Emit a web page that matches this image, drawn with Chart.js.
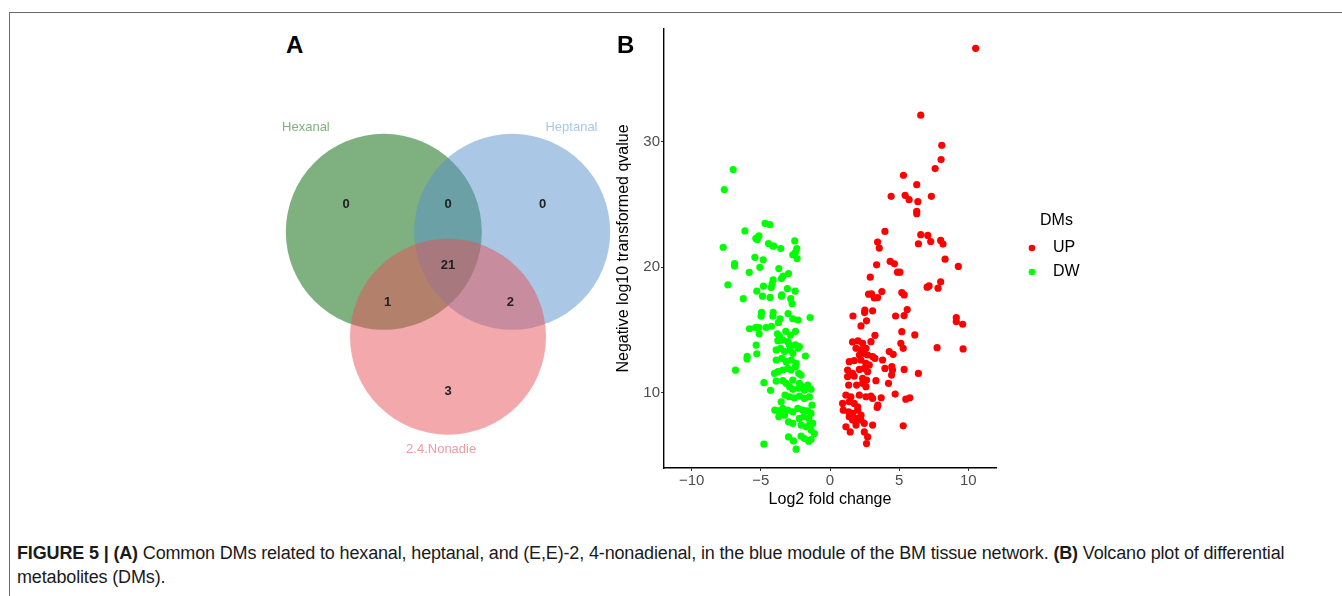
<!DOCTYPE html>
<html lang="en">
<head>
<meta charset="UTF-8">
<title>Figure 5</title>
<style type="text/css">
  body { margin: 0; background: #fff; font-family: 'Liberation Sans', Arial, Helvetica, sans-serif; }
  .page { position: relative; width: 1342px; height: 596px; overflow: hidden; }
  .frame { position: absolute; left: 9px; top: 12px; right: -5px; bottom: -5px; border-top: 1.5px solid #6b6b6b; border-left: 1.5px solid #6b6b6b; }
  .panel { position: absolute; font-weight: bold; font-size: 24px; color: #000; }
  #venn { position: absolute; left: 252px; top: 76px; }
  #volcano { position: absolute; left: 600px; top: 0px; }
  .caption { position: absolute; left: 17px; top: 541px; font-size: 18px; letter-spacing: -0.15px; line-height: 24px; color: #1a1a1a; white-space: nowrap; }
</style>
</head>
<body>
<div class="page">
  <div class="frame"></div>
  <canvas id="venn" width="392" height="392"></canvas>
  <canvas id="volcano" width="500" height="530"></canvas>
  <div class="panel" style="left:286px; top:31px;">A</div>
  <div class="panel" style="left:617px; top:31px;">B</div>
  <div class="caption"><b>FIGURE 5 | (A)</b> Common DMs related to hexanal, heptanal, and (E,E)-2, 4-nonadienal, in the blue module of the BM tissue network. <b>(B)</b> Volcano plot of differential<br>metabolites (DMs).</div>
</div>

<script src="https://cdn.jsdelivr.net/npm/chart.js"></script>
<script>
Chart.defaults.font.family = "'Liberation Sans', Arial, Helvetica, sans-serif";

// ---- panel A: venn ----
const vennSets = ['Hexanal', 'Heptanal', '2.4.Nonadie'];
const vennCX = [-0.655, 0.655, 0];
const vennCY = [0.41, 0.41, -0.66];
const vennR = [98, 98, 98];
const vennFill = ['rgba(0,97,0,0.5)', 'rgba(85,145,205,0.5)', 'rgba(231,81,89,0.5)'];
const vennLabelColor = ['#7db47c', '#a6c9ea', '#f09aa3'];
const setLabelX = [-1.45, 1.26, -0.07];
const setLabelY = [1.48, 1.48, -1.81];

const counts = ['0', '0', '0', '21', '1', '2', '3'];
const countX = [-1.04, 0, 0.965, 0, -0.615, 0.636, 0];
const countY = [0.69, 0.69, 0.69, 0.064, -0.313, -0.313, -1.22];

// ---- panel B: volcano ----
const xTicks = [-10, -5, 0, 5, 10];
const yTicks = [10, 20, 30];

const upPts = [
  [10.53,37.46],[6.56,32.13],[8.08,29.73],[8.03,28.59],[7.60,27.87],[5.31,27.34],[6.27,26.59],[4.42,25.66],
  [5.43,25.74],[5.72,25.39],[6.35,25.23],[6.27,24.46],[6.27,24.27],[7.33,25.66],[3.97,22.86],[3.44,22.01],
  [3.56,21.53],[6.56,22.60],[7.07,22.54],[6.39,21.88],[7.28,22.06],[8.0,22.14],[8.17,21.85],[8.32,20.65],
  [9.28,20.07],[3.37,20.2],[4.35,20.47],[4.66,20.28],[4.88,19.61],[5.05,19.61],[2.91,19.21],[7.02,18.42],
  [7.16,18.52],[7.81,18.34],[8.0,18.84],[2.79,17.86],[3.0,17.88],[3.75,18.07],[3.2,17.56],[3.44,17.59],
  [5.19,17.99],[5.36,17.80],[1.66,16.12],[2.52,16.58],[2.5,16.39],[3.08,16.53],[2.64,15.73],[2.24,15.33],
  [4.74,16.12],[5.58,16.63],[5.36,16.15],[9.13,16.0],[9.13,15.67],[9.59,15.46],[6.13,14.61],[5.19,14.87],
  [3.25,14.58],[7.74,13.59],[9.62,13.49],[5.12,13.94],[5.29,13.54],[4.28,13.28],[4.57,13.06],[5.36,11.86],
  [6.39,11.54],[4.71,9.89],[5.48,9.49],[5.77,9.6],[5.29,7.36],[3.80,12.61],[3.97,11.94],[4.47,12.08],
  [4.52,11.81],[4.45,11.41],[4.23,10.75],[3.32,10.96],[3.70,9.6],[3.46,9.01],[3.41,8.83],[3.08,7.42],
  [2.72,6.48],[2.64,5.95],
  [1.63,14.05],[2.02,14.13],[2.36,13.94],[2.96,14.07],[1.88,13.54],[2.24,13.41],[2.48,13.14],[2.72,13.01],
  [3.08,12.88],[2.12,13.01],[2.60,13.54],[1.39,12.48],[1.75,12.56],[2.24,12.61],[2.60,12.34],[2.84,12.21],
  [3.25,12.74],[1.27,11.81],[1.63,11.54],[2.12,11.86],[2.48,11.94],[2.72,11.68],[1.27,11.28],[1.75,11.33],
  [2.36,11.14],[2.64,11.01],[1.35,10.61],[1.92,10.61],[2.36,10.75],[2.60,10.48],[1.15,9.81],[1.51,9.68],
  [2.12,9.81],[2.60,9.68],[2.96,9.73],[3.08,9.55],[0.91,9.15],[1.39,9.28],[1.75,9.15],[2.0,8.88],
  [0.96,8.61],[1.35,8.48],[1.63,8.35],[2.0,8.61],[2.24,8.21],[1.39,8.08],[1.63,7.82],[1.92,7.95],
  [2.24,7.82],[2.48,7.55],[1.15,7.28],[1.46,6.88],[1.88,7.42],[2.48,6.88]
];

const dwPts = [
  [-7.0,27.8],[-7.64,26.2],[-7.72,21.6],[-6.9,20.3],[-6.9,20.1],[-7.38,18.6],[-6.15,22.9],[-5.84,19.6],
  [-6.27,17.5],[-6.83,11.8],[-5.82,15.1],[-5.99,12.9],[-6.0,12.7],[-5.43,20.8],[-5.36,22.3],[-5.14,22.5],
  [-5.26,22.2],[-4.69,23.5],[-4.35,23.4],[-4.45,21.9],[-4.13,21.7],[-4.06,21.7],[-3.56,21.5],[-4.83,20.6],
  [-5.07,20.0],[-5.29,18.1],[-4.81,18.5],[-4.88,17.7],[-4.33,17.6],[-4.11,19.0],[-4.18,18.7],[-4.25,18.4],
  [-3.70,19.9],[-3.51,19.1],[-3.39,19.3],[-3.0,19.5],[-3.08,18.3],[-3.49,17.8],[-3.51,17.7],[-2.84,17.5],
  [-2.74,17.1],[-2.55,22.1],[-2.40,21.5],[-2.69,21.0],[-2.38,20.7],[-2.50,21.2],[-2.52,18.1],[-4.95,16.4],
  [-4.98,16.1],[-4.11,16.4],[-4.13,16.1],[-3.61,15.9],[-3.73,15.6],[-3.03,16.3],[-2.31,15.8],[-2.69,15.9],
  [-1.44,16.0],[-5.38,15.2],[-5.14,15.2],[-4.62,15.2],[-4.23,15.3],[-5.12,14.7],[-3.80,14.7],[-3.65,14.5],
  [-3.58,14.2],[-3.20,14.9],[-2.86,14.6],[-2.50,14.9],[-5.34,13.8],[-5.29,13.1],[-4.78,10.8],[-4.3,10.2],
  [-3.77,14.15],[-3.41,14.2],[-3.05,14.07],[-2.93,13.81],[-2.5,13.81],[-2.21,13.68],[-3.89,13.41],[-3.58,13.54],
  [-3.29,13.28],[-2.88,13.41],[-2.69,13.14],[-2.31,13.54],[-3.89,12.61],[-3.49,12.74],[-3.17,12.48],[-2.81,12.61],
  [-2.45,12.34],[-1.78,12.93],[-4.01,11.54],[-3.77,11.68],[-3.41,11.81],[-3.05,11.94],[-2.81,11.81],[-2.5,12.08],
  [-2.26,11.54],[-2.09,11.41],[-3.89,10.93],[-3.41,10.96],[-3.17,10.75],[-2.69,11.01],[-2.21,10.75],[-1.61,10.61],
  [-2.02,10.48],[-2.93,10.48],[-2.69,10.27],[-2.26,10.35],[-1.85,10.21],[-1.37,10.27],[-1.66,10.48],[-3.53,9.28],
  [-3.25,9.81],[-2.93,9.68],[-2.57,9.6],[-2.21,9.73],[-1.85,9.55],[-1.49,9.68],[-1.30,9.01],[-3.99,8.61],
  [-3.70,8.56],[-3.41,8.75],[-3.05,8.61],[-2.69,8.48],[-2.33,8.75],[-1.97,8.61],[-1.61,8.56],[-1.37,8.35],
  [-3.70,8.08],[-3.29,8.21],[-3.0,7.68],[-2.21,7.95],[-1.90,8.08],[-1.54,7.95],[-1.25,7.55],[-2.69,7.55],
  [-2.09,7.42],[-1.73,7.28],[-1.37,7.02],[-1.13,6.75],[-1.44,7.55],[-3.0,6.48],[-2.64,6.16],[-2.09,6.54],
  [-1.85,6.35],[-1.54,6.14],[-1.37,6.27],[-4.78,5.9],[-2.45,5.5]
];

const toXY = p => ({ x: p[0], y: p[1] });

// venn text: counts and set names placed through the scales
const vennText = {
  id: 'vennText',
  afterDatasetsDraw(chart) {
    const ctx = chart.ctx, sx = chart.scales.x, sy = chart.scales.y;
    ctx.save();
    ctx.textAlign = 'center';
    ctx.textBaseline = 'middle';
    ctx.font = "bold 13px 'Liberation Sans', Arial, sans-serif";
    ctx.fillStyle = '#222';
    counts.forEach((c, i) => ctx.fillText(c, sx.getPixelForValue(countX[i]), sy.getPixelForValue(countY[i])));
    ctx.font = "13px 'Liberation Sans', Arial, sans-serif";
    vennSets.forEach((s, i) => {
      ctx.fillStyle = vennLabelColor[i];
      ctx.fillText(s, sx.getPixelForValue(setLabelX[i]), sy.getPixelForValue(setLabelY[i]));
    });
    ctx.restore();
  }
};

new Chart(document.getElementById('venn'), {
  type: 'bubble',
  data: {
    datasets: vennSets.map((s, i) => ({
      label: s,
      data: [{ x: vennCX[i], y: vennCY[i], r: vennR[i] }],
      backgroundColor: vennFill[i],
      borderWidth: 0,
      clip: false,
      order: vennSets.length - i   // green at the bottom, pink on top
    }))
  },
  options: {
    responsive: false,
    animation: false,
    events: [],
    layout: { padding: 0, autoPadding: false },
    plugins: { legend: { display: false }, tooltip: { enabled: false } },
    scales: {
      x: { type: 'linear', min: -2, max: 2, display: false },
      y: { type: 'linear', min: -2, max: 2, display: false }
    }
  },
  plugins: [vennText]
});

// legend on the right of the volcano plot
const dmLegend = {
  id: 'dmLegend',
  afterDraw(chart) {
    const ctx = chart.ctx;
    const x0 = chart.chartArea.right + 36;
    ctx.save();
    ctx.textBaseline = 'middle';
    ctx.font = "16px 'Liberation Sans', Arial, sans-serif";
    ctx.fillStyle = '#000';
    ctx.textAlign = 'left';
    ctx.fillText('DMs', x0 + 8, 221);
    chart.data.datasets.forEach((ds, i) => {
      const y = 248 + i * 24;
      ctx.beginPath();
      ctx.arc(x0, y, 3.3, 0, Math.PI * 2);
      ctx.fillStyle = ds.backgroundColor;
      ctx.fill();
      ctx.fillStyle = '#000';
      ctx.fillText(ds.label, x0 + 21, y);
    });
    ctx.restore();
  }
};

const axisLook = {
  grid: { drawOnChartArea: false, drawTicks: true, tickLength: 3, color: '#333', lineWidth: 1 },
  border: { display: true, color: '#000', width: 1.4 },
  ticks: { color: '#4d4d4d', font: { size: 15 }, padding: 1, callback: v => String(v).replace('-', '\u2212') }
};

new Chart(document.getElementById('volcano'), {
  type: 'scatter',
  data: {
    datasets: [
      { label: 'UP', data: upPts.map(toXY), backgroundColor: '#ff0000', pointRadius: 3.6, borderWidth: 0 },
      { label: 'DW', data: dwPts.map(toXY), backgroundColor: '#00ff00', pointRadius: 3.6, borderWidth: 0 }
    ]
  },
  options: {
    responsive: false,
    animation: false,
    events: [],
    layout: { padding: { left: 10, right: 104, top: 29, bottom: 17 } },
    plugins: { legend: { display: false }, tooltip: { enabled: false } },
    scales: {
      x: Object.assign({}, axisLook, {
        type: 'linear', min: -12, max: 12,
        afterBuildTicks: s => { s.ticks = xTicks.map(v => ({ value: v })); },
        afterFit: s => { s.height = 45; },
        title: { display: true, text: 'Log2 fold change', color: '#000', font: { size: 16 }, padding: { top: 2, bottom: 4 } }
      }),
      y: Object.assign({}, axisLook, {
        type: 'linear', min: 4, max: 39,
        afterBuildTicks: s => { s.ticks = yTicks.map(v => ({ value: v })); },
        afterFit: s => { s.width = 54; },
        title: { display: true, text: 'Negative log10 transformed qvalue', color: '#000', font: { size: 16 }, padding: { top: 4, bottom: 2 } }
      })
    }
  },
  plugins: [dmLegend]
});
</script>
</body>
</html>
